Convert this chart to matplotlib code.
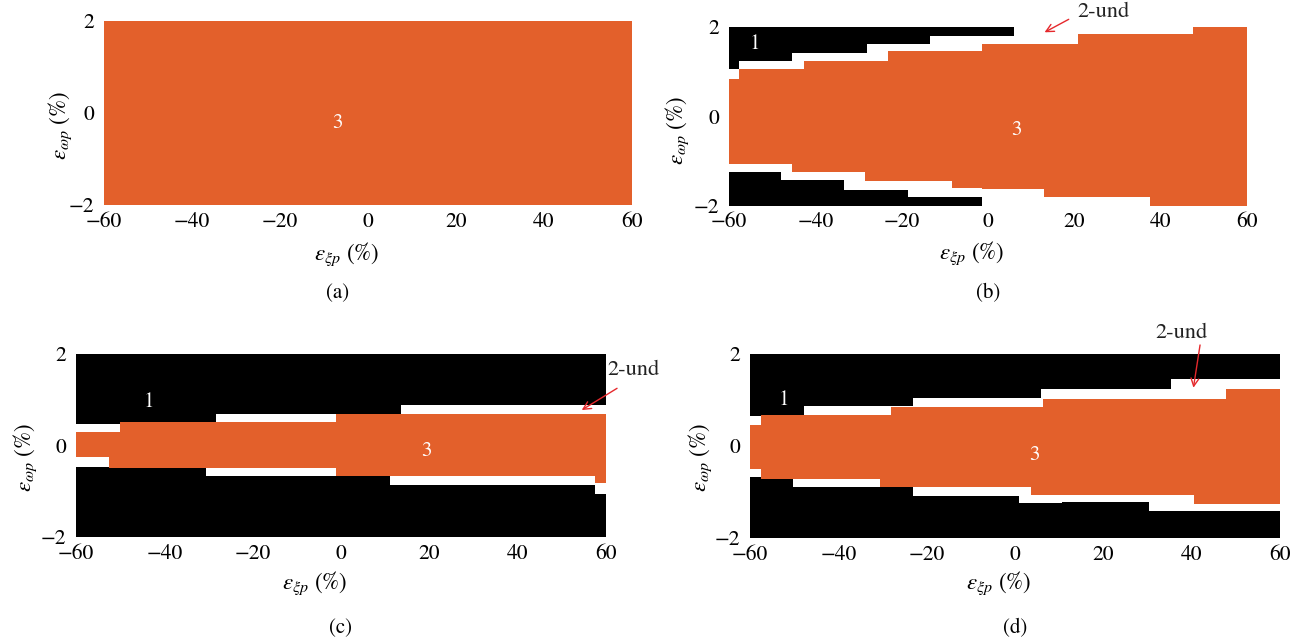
import matplotlib
matplotlib.use('Agg')
import matplotlib.pyplot as plt

plt.rcParams['font.family'] = ['STIXGeneral', 'DejaVu Serif']
plt.rcParams['mathtext.fontset'] = 'stix'

ORANGE = '#E3602B'
ARROW = '#E5282C'

x_ticks = [-60, -40, -20, 0, 20, 40, 60]
y_ticks = [-2, 0, 2]
captions = ['(a)', '(b)', '(c)', '(d)']
xlabel = r'$\varepsilon_{\xi p}$ (%)'
ylabel = r'$\varepsilon_{\omega p}$ (%)'

# ---------- panel (a): region 3 everywhere ----------
a_otop_edges = [-60, 60]
a_otop_vals = [2.0]
a_obot_edges = [-60, 60]
a_obot_vals = [-2.0]
a_b1_edges = [-60, 60]
a_b1_vals = [2.0]
a_b2_edges = [-60, 60]
a_b2_vals = [-2.0]

# ---------- panel (b) ----------
b_b1_edges = [-60, -57.7, -45.4, -28.0, -13.4, 5.95, 59.6, 60]
b_b1_vals = [1.054, 1.24, 1.419, 1.613, 1.80, 2.0, 1.82]
b_otop_edges = [-60, -57.7, -42.6, -23.2, -1.4, 20.85, 47.6, 60]
b_otop_vals = [0.823, 1.054, 1.24, 1.456, 1.613, 1.836, 2.0]
b_obot_edges = [-60, -45.4, -28.5, -8.3, -1.4, 13.0, 37.5, 60]
b_obot_vals = [-1.069, -1.248, -1.449, -1.605, -1.628, -1.799, -2.0]
b_b2_edges = [-60, -47.95, -33.4, -18.5, -1.4, 60]
b_b2_vals = [-1.248, -1.426, -1.65, -1.806, -2.0]

# ---------- panel (c) ----------
c_b1_edges = [-60, -50.0, -28.3, 13.6, 60]
c_b1_vals = [0.467, 0.511, 0.686, 0.883]
c_otop_edges = [-60, -50.0, -1.1, 60]
c_otop_vals = [0.292, 0.511, 0.686]
c_obot_edges = [-60, -52.5, -1.1, 57.6, 60]
c_obot_vals = [-0.255, -0.496, -0.672, -0.83]
c_b2_edges = [-60, -52.5, -30.6, 11.1, 57.6, 60]
c_b2_vals = [-0.474, -0.496, -0.672, -0.87, -1.05]

# ---------- panel (d) ----------
d_b1_edges = [-60, -57.5, -47.8, -23.1, 5.9, 35.3, 60]
d_b1_vals = [0.652, 0.674, 0.870, 1.043, 1.239, 1.457]
d_otop_edges = [-60, -57.5, -28.1, 6.3, 47.8, 60]
d_otop_vals = [0.457, 0.674, 0.848, 1.022, 1.239]
d_obot_edges = [-60, -57.5, -30.6, 3.6, 40.5, 60]
d_obot_vals = [-0.5, -0.717, -0.891, -1.065, -1.261]
d_b2_edges = [-60, -57.5, -50.3, -23.1, 0.9, 10.6, 30.3, 60]
d_b2_vals = [-0.674, -0.717, -0.891, -1.087, -1.239, -1.217, -1.413]

# region labels: (x, y) in data coords
a_label3 = (-6.9, -0.22)
b_label1 = (-54.0, 1.61)
b_label3 = (6.5, -0.31)
c_label1 = (-43.6, 0.949)
c_label3 = (19.4, -0.117)
d_label1 = (-52.3, 0.993)
d_label3 = (4.3, -0.203)

# "2-und" annotations: tip, tail, text position
b_und = ((13.1, 1.875), (18.7, 2.165), (20.8, 2.335))
c_und = ((54.5, 0.775), (62.5, 1.25), (60.4, 1.65))
d_und = ((40.4, 1.267), (41.9, 2.196), (31.7, 2.457))

W, H = 1300, 642
fig = plt.figure(figsize=(W / 100, H / 100), dpi=100)


def ax_rect(l, r, t, b):
    return [l / W, (H - b) / H, (r - l) / W, (b - t) / H]


panels = [
    dict(rect=ax_rect(103.5, 632, 21, 205),
         b1=(a_b1_vals, a_b1_edges), otop=(a_otop_vals, a_otop_edges),
         obot=(a_obot_vals, a_obot_edges), b2=(a_b2_vals, a_b2_edges),
         l1=None, l3=a_label3, und=None,
         xl=(0.46, -0.265), yl=(-0.082, 0.435), cap=(0.442, -0.478)),
    dict(rect=ax_rect(729, 1247, 26.7, 205.7),
         b1=(b_b1_vals, b_b1_edges), otop=(b_otop_vals, b_otop_edges),
         obot=(b_obot_vals, b_obot_edges), b2=(b_b2_vals, b_b2_edges),
         l1=b_label1, l3=b_label3, und=b_und,
         xl=(0.468, -0.264), yl=(-0.100, 0.423), cap=(0.5, -0.488)),
    dict(rect=ax_rect(76, 606, 354, 537),
         b1=(c_b1_vals, c_b1_edges), otop=(c_otop_vals, c_otop_edges),
         obot=(c_obot_vals, c_obot_edges), b2=(c_b2_vals, c_b2_edges),
         l1=c_label1, l3=c_label3, und=c_und,
         xl=(0.45, -0.251), yl=(-0.096, 0.437), cap=(0.5, -0.497)),
    dict(rect=ax_rect(750, 1280, 354, 538),
         b1=(d_b1_vals, d_b1_edges), otop=(d_otop_vals, d_otop_edges),
         obot=(d_obot_vals, d_obot_edges), b2=(d_b2_vals, d_b2_edges),
         l1=d_label1, l3=d_label3, und=d_und,
         xl=(0.47, -0.245), yl=(-0.094, 0.44), cap=(0.5, -0.489)),
]

for p, cap in zip(panels, captions):
    ax = fig.add_axes(p['rect'])
    ax.set_xlim(-60, 60)
    ax.set_ylim(-2, 2)
    # region 1 (black), top and bottom
    ax.stairs(p['b1'][0], p['b1'][1], baseline=2, fill=True,
              color='black', lw=0)
    ax.stairs(p['b2'][0], p['b2'][1], baseline=-2, fill=True,
              color='black', lw=0)
    # region 3 (orange)
    ax.stairs(p['otop'][0], p['otop'][1], baseline=-0.1, fill=True,
              color=ORANGE, lw=0)
    ax.stairs(p['obot'][0], p['obot'][1], baseline=0.1, fill=True,
              color=ORANGE, lw=0)

    for s in ax.spines.values():
        s.set_visible(False)
    ax.set_xticks(x_ticks)
    ax.set_yticks(y_ticks)
    ax.tick_params(length=0, labelsize=15.5, pad=5)
    ax.tick_params(axis='y', pad=7)

    if p['l1'] is not None:
        ax.text(*p['l1'], '1', color='white', fontsize=15,
                ha='center', va='center')
    ax.text(*p['l3'], '3', color='white', fontsize=15,
            ha='center', va='center')

    if p['und'] is not None:
        tip, tail, txt = p['und']
        ax.annotate('', xy=tip, xytext=tail, annotation_clip=False,
                    arrowprops=dict(arrowstyle='->', color=ARROW, lw=1.0,
                                    mutation_scale=14, shrinkA=0, shrinkB=0))
        ax.text(*txt, '2-und', fontsize=16, color='#222222',
                ha='left', va='center', clip_on=False)

    ax.text(*p['xl'], xlabel, transform=ax.transAxes, fontsize=16.5,
            ha='center', va='center')
    ax.text(*p['yl'], ylabel, transform=ax.transAxes, fontsize=16.5,
            ha='center', va='center', rotation=90)
    ax.text(*p['cap'], cap, transform=ax.transAxes, fontsize=15,
            ha='center', va='center')

fig.savefig('out.png', dpi=100)
